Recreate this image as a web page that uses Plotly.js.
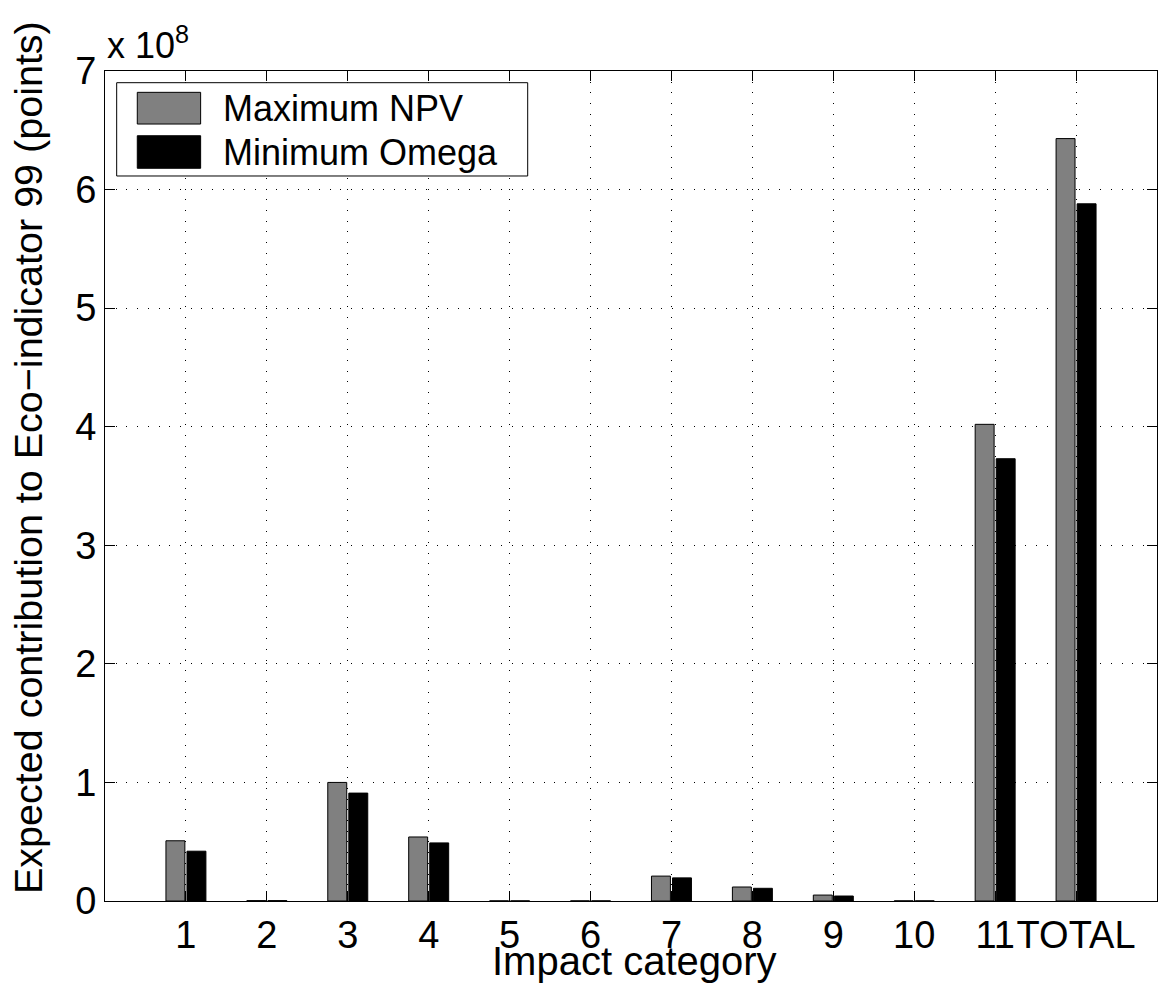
<!DOCTYPE html>
<html>
<head>
<meta charset="utf-8">
<script src="https://cdn.plot.ly/plotly-3.0.1.min.js"></script>
<style>html,body{margin:0;padding:0;background:#fff;}#chart{width:1163px;height:988px;}</style>
</head>
<body>
<div id="chart"></div>
<script>
// Impact categories (x positions and tick labels)
const categories = [1, 2, 3, 4, 5, 6, 7, 8, 9, 10, 11, 12];
const tickLabels = ['1', '2', '3', '4', '5', '6', '7', '8', '9', '10', '11', 'TOTAL'];
// Expected contribution to Eco-indicator 99, in units of 10^8 points
const maxNPV = [0.508, 0.003, 1.00, 0.54, 0.001, 0.001, 0.21, 0.118, 0.05, 0.001, 4.02, 6.43];
const minOmega = [0.42, 0.003, 0.91, 0.49, 0.001, 0.001, 0.195, 0.107, 0.042, 0.001, 3.73, 5.88];
const seriesNames = ['Maximum NPV', 'Minimum Omega'];
const seriesColors = ['#808080', '#000000'];
const xTitle = 'Impact category';
const yTitle = 'Expected contribution to Eco\u2212indicator 99 (points)';

const FONT = 'Liberation Sans, Arial, Helvetica, sans-serif';

const traces = [maxNPV, minOmega].map((vals, i) => ({
  type: 'bar',
  name: seriesNames[i],
  x: categories,
  y: vals,
  marker: {color: seriesColors[i], line: {color: '#000', width: 1}},
  hoverinfo: 'x+y+name'
}));

// legend geometry (paper coords)
const lg = {x0: 0.0111, x1: 0.4018, y0: 0.8735, y1: 0.9859};
const sw = [{y0: 0.9361, y1: 0.9743}, {y0: 0.8828, y1: 0.9220}];

const shapes = [
  {type: 'rect', xref: 'paper', yref: 'paper', x0: lg.x0, x1: lg.x1, y0: lg.y0, y1: lg.y1,
   line: {color: '#000', width: 1}, fillcolor: '#fff', layer: 'above'}
].concat(sw.map((s, i) => ({
  type: 'rect', xref: 'paper', yref: 'paper', x0: 0.0307, x1: 0.0909, y0: s.y0, y1: s.y1,
  line: {color: '#000', width: 1}, fillcolor: seriesColors[i], layer: 'above'
})));

const annotations = [
  {xref: 'paper', yref: 'paper', x: 0, y: 1.004, xanchor: 'left', yanchor: 'bottom',
   text: 'x 10<sup>8</sup>', showarrow: false, font: {family: FONT, size: 36, color: '#000'}},
  {xref: 'paper', yref: 'paper', x: 0.503, y: -0.0434, xanchor: 'center', yanchor: 'top',
   text: xTitle, showarrow: false, font: {family: FONT, size: 40, color: '#000'}},
  {xref: 'paper', yref: 'paper', x: -0.0732, y: 0.5349, xanchor: 'center', yanchor: 'middle',
   textangle: -90, text: yTitle, showarrow: false, font: {family: FONT, size: 39.5, color: '#000'}}
].concat(sw.map((s, i) => ({
  xref: 'paper', yref: 'paper', x: 0.1103, y: (s.y0 + s.y1) / 2, xanchor: 'left', yanchor: 'middle',
  text: seriesNames[i], showarrow: false, font: {family: FONT, size: 36, color: '#000'}
})));

const gridDash = '1px,9.7px';

const layout = {
  width: 1163, height: 988,
  margin: {l: 105, r: 6, t: 71, b: 87, pad: 0},
  paper_bgcolor: '#fff', plot_bgcolor: '#fff',
  font: {family: FONT, size: 36, color: '#000'},
  showlegend: false,
  barmode: 'group', bargap: 0.48, bargroupgap: 0.1,
  xaxis: {
    range: [0, 13], tickvals: categories, ticktext: tickLabels, tickangle: 0,
    ticks: 'inside', ticklen: 10, tickwidth: 1, tickcolor: '#000',
    showline: true, linecolor: '#000', linewidth: 1, mirror: 'ticks',
    showgrid: true, gridcolor: '#000', gridwidth: 1, griddash: gridDash,
    zeroline: false, ticklabelstandoff: 0,
    tickfont: {family: FONT, size: 38, color: '#000'},
    automargin: false, fixedrange: true
  },
  yaxis: {
    range: [0, 7], dtick: 1, tick0: 0, tickangle: 0,
    ticks: 'inside', ticklen: 10, tickwidth: 1, tickcolor: '#000',
    showline: true, linecolor: '#000', linewidth: 1, mirror: 'ticks',
    showgrid: true, gridcolor: '#000', gridwidth: 1, griddash: gridDash,
    zeroline: false, ticklabelstandoff: 0,
    tickfont: {family: FONT, size: 38, color: '#000'},
    automargin: false, fixedrange: true
  },
  shapes: shapes,
  annotations: annotations
};

Plotly.newPlot('chart', traces, layout, {displayModeBar: false});
</script>
</body>
</html>
